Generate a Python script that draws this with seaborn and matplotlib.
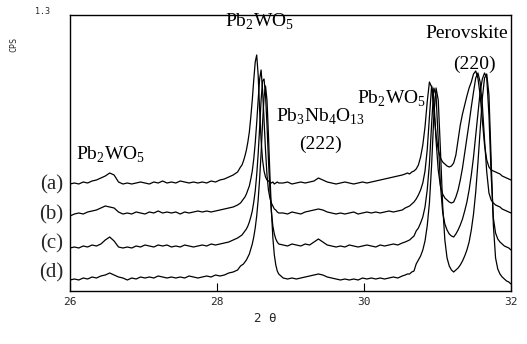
import numpy as np
import pandas as pd
import matplotlib
matplotlib.use("Agg")
import matplotlib.pyplot as plt
import seaborn as sns

# ---------------- data ----------------
two_theta_A = [26.00, 26.06, 26.12, 26.18, 26.24, 26.30, 26.36, 26.42, 26.48, 26.54,
               26.60, 26.66, 26.72, 26.78, 26.84, 26.90, 26.96, 27.02, 27.08, 27.14,
               27.20, 27.26, 27.32, 27.38, 27.44, 27.50, 27.56, 27.62, 27.68, 27.74,
               27.80, 27.86, 27.92, 27.98, 28.04, 28.10, 28.16, 28.22, 28.28]
two_theta_B = [28.32, 28.34, 28.36, 28.38, 28.40, 28.42, 28.44, 28.46, 28.48, 28.50,
               28.52, 28.54, 28.56, 28.58, 28.60, 28.62, 28.64, 28.66, 28.68, 28.70,
               28.72, 28.74, 28.76, 28.78, 28.80, 28.82, 28.84]
two_theta_C = [28.90, 28.96, 29.02, 29.08, 29.14, 29.20, 29.26, 29.32, 29.38, 29.44,
               29.50, 29.56, 29.62, 29.68, 29.74, 29.80, 29.86, 29.92, 29.98, 30.04,
               30.10, 30.16, 30.22, 30.28, 30.34, 30.40, 30.46, 30.52]
two_theta_D = [30.56, 30.59, 30.62, 30.65, 30.68, 30.71, 30.74, 30.77, 30.80, 30.83,
               30.86, 30.89, 30.92, 30.95, 30.98, 31.01, 31.04, 31.07, 31.10, 31.13,
               31.16, 31.19, 31.22, 31.25, 31.28, 31.31, 31.34, 31.37, 31.40, 31.43,
               31.46, 31.49, 31.52, 31.55, 31.58, 31.61, 31.64, 31.67, 31.70, 31.73,
               31.76, 31.79, 31.82, 31.85, 31.88, 31.91, 31.94, 31.97, 32.00]

trace_a = ([106, 107, 106, 108, 107, 109, 110, 112, 114, 117, 115, 108, 106, 107, 106,
            107, 108, 107, 106, 108, 107, 109, 107, 108, 107, 109, 108, 107, 108, 107,
            108, 107, 109, 108, 110, 111, 113, 115, 118]
           + [123, 125, 129, 134, 140, 148, 158, 173, 190, 210, 228, 235, 215, 180, 150,
              130, 119, 113, 110, 109, 108, 107, 108, 106, 107, 108, 107]
           + [107, 108, 106, 107, 108, 107, 108, 109, 112, 110, 108, 107, 106, 107, 108,
              107, 106, 107, 108, 107, 108, 109, 110, 111, 112, 113, 114, 115]
           + [116, 117, 116, 118, 119, 121, 125, 133, 145, 163, 188, 208, 203, 180, 155,
              140, 132, 128, 126, 124, 123, 124, 127,
              135, 150, 165, 176, 185, 194, 202, 208, 216, 219, 212, 195, 170, 145, 130,
              123, 120, 119, 118, 117, 116, 114, 113, 112, 111, 110])
trace_b = ([74, 76, 77, 76, 78, 79, 80, 82, 84, 83, 82, 78, 76, 77, 76, 78, 77, 76, 78,
            77, 79, 77, 78, 77, 78, 76, 78, 77, 78, 79, 78, 79, 78, 79, 80, 81, 82, 83, 85]
           + [87, 89, 91, 93, 96, 100, 104, 111, 119, 131, 147, 167, 190, 211, 220, 200,
              170, 140, 115, 100, 92, 87, 84, 81, 80, 78, 77]
           + [77, 76, 78, 77, 76, 78, 79, 80, 81, 80, 78, 77, 76, 77, 76, 77, 78, 76, 77,
              78, 77, 78, 77, 78, 79, 78, 79, 80]
           + [82, 83, 84, 86, 88, 91, 95, 100, 107, 119, 140, 173, 204, 192, 150, 120,
              104, 96, 92, 90, 88, 87, 88,
              93, 100, 110, 122, 137, 152, 167, 183, 198, 212, 217, 208, 185, 150, 118,
              97, 90, 87, 85, 84, 83, 81, 80, 79, 78, 77])
trace_c = ([42, 43, 42, 44, 43, 45, 44, 46, 50, 53, 49, 43, 42, 43, 42, 44, 43, 45, 44,
            43, 45, 44, 45, 43, 44, 43, 45, 44, 43, 44, 45, 44, 46, 45, 46, 47, 48, 50, 52]
           + [54, 55, 57, 59, 61, 64, 68, 73, 79, 88, 99, 115, 136, 162, 190, 209, 211,
              195, 165, 130, 100, 78, 64, 56, 51, 48, 46]
           + [45, 44, 46, 45, 44, 46, 45, 48, 51, 48, 45, 44, 43, 44, 43, 45, 44, 43, 44,
              45, 44, 43, 45, 44, 45, 46, 45, 47]
           + [48, 49, 50, 52, 54, 59, 62, 67, 73, 83, 100, 126, 166, 202, 195, 150, 105,
              78, 66, 60, 56, 54, 53,
              56, 60, 65, 71, 79, 88, 100, 115, 133, 155, 178, 198, 211, 217, 212, 175,
              115, 72, 57, 51, 48, 46, 44, 43, 42, 40])
trace_d = ([10, 11, 10, 12, 11, 13, 12, 14, 15, 17, 15, 13, 12, 10, 12, 11, 13, 12, 13,
            12, 14, 13, 12, 13, 12, 13, 12, 14, 13, 12, 13, 14, 13, 15, 14, 15, 17, 18, 20]
           + [24, 25, 26, 28, 30, 33, 36, 41, 46, 53, 62, 74, 90, 111, 137, 167, 193, 204,
              190, 155, 115, 80, 52, 35, 25, 19, 16]
           + [12, 11, 12, 11, 12, 13, 14, 15, 16, 15, 13, 12, 11, 10, 11, 10, 11, 10, 12,
              11, 12, 11, 12, 11, 12, 13, 12, 14]
           + [15, 16, 16, 18, 19, 26, 30, 34, 40, 49, 64, 87, 125, 174, 202, 190, 140, 85,
              50, 32, 24, 20, 18,
              20, 22, 25, 29, 34, 40, 48, 60, 76, 98, 127, 160, 192, 212, 216, 195, 130,
              65, 32, 21, 16, 13, 11, 9, 8, 6])

sample_labels = ["(a)", "(b)", "(c)", "(d)"]
x_ticks = [26, 28, 30, 32]
x_tick_labels = ["26", "28", "30", "32"]

two_theta = two_theta_A + two_theta_B + two_theta_C + two_theta_D
traces = [trace_a, trace_b, trace_c, trace_d]

df = pd.concat([pd.DataFrame({"two_theta": two_theta, "intensity": t, "sample": s})
                for t, s in zip(traces, sample_labels)], ignore_index=True)

# ---------------- figure ----------------
sns.set_theme(style="white")
plt.rcParams["font.family"] = ["Liberation Serif", "DejaVu Serif"]
plt.rcParams["mathtext.fontset"] = "custom"
plt.rcParams["mathtext.rm"] = "Liberation Serif"

W, H = 527, 344
fig = plt.figure(figsize=(W / 100, H / 100), dpi=100)
ax = fig.add_axes([70 / W, 53 / H, 441 / W, 276 / H])

sns.lineplot(data=df, x="two_theta", y="intensity", units="sample", estimator=None,
             color="black", linewidth=0.9, ax=ax, legend=False, sort=False)

ax.set_xlim(26, 32)
ax.set_ylim(-1, 275)
ax.set_xticks(x_ticks)
ax.set_xticklabels(x_tick_labels, family="DejaVu Sans Mono", fontsize=8)
ax.set_yticks([])
ax.set_xlabel("")
ax.set_ylabel("")
ax.tick_params(axis="x", direction="in", length=6, width=0.8, color="black",
               bottom=True, top=False, pad=4)
for sp in ax.spines.values():
    sp.set_color("black")
    sp.set_linewidth(1.0)


def ftext(px, py, s, **kw):
    fig.text(px / W, 1 - py / H, s, **kw)


lab_kw = dict(fontsize=14, ha="center", va="center", color="black")
ftext(111, 155, r"Pb$_\mathregular{2}$WO$_\mathregular{5}$", **lab_kw)
ftext(260, 22, r"Pb$_\mathregular{2}$WO$_\mathregular{5}$", **lab_kw)
ftext(320, 117, r"Pb$_\mathregular{3}$Nb$_\mathregular{4}$O$_\mathregular{13}$", **lab_kw)
ftext(320, 144, "(222)", **lab_kw)
ftext(392, 99, r"Pb$_\mathregular{2}$WO$_\mathregular{5}$", **lab_kw)
ftext(467, 34, "Perovskite", **lab_kw)
ftext(474, 64, "(220)", **lab_kw)

for lab, py in zip(sample_labels, [185, 215, 244, 273]):
    ftext(63, py, lab, fontsize=15, ha="right", va="center")

ftext(265, 318, "2 θ", family="DejaVu Sans Mono", fontsize=9, ha="center", va="center")
ftext(14, 45, "CPS", family="DejaVu Sans Mono", fontsize=6, rotation=90,
      ha="center", va="center")
ftext(43, 11, "1.3", family="DejaVu Sans Mono", fontsize=6, ha="center", va="center")

fig.savefig("out.png", dpi=100)
